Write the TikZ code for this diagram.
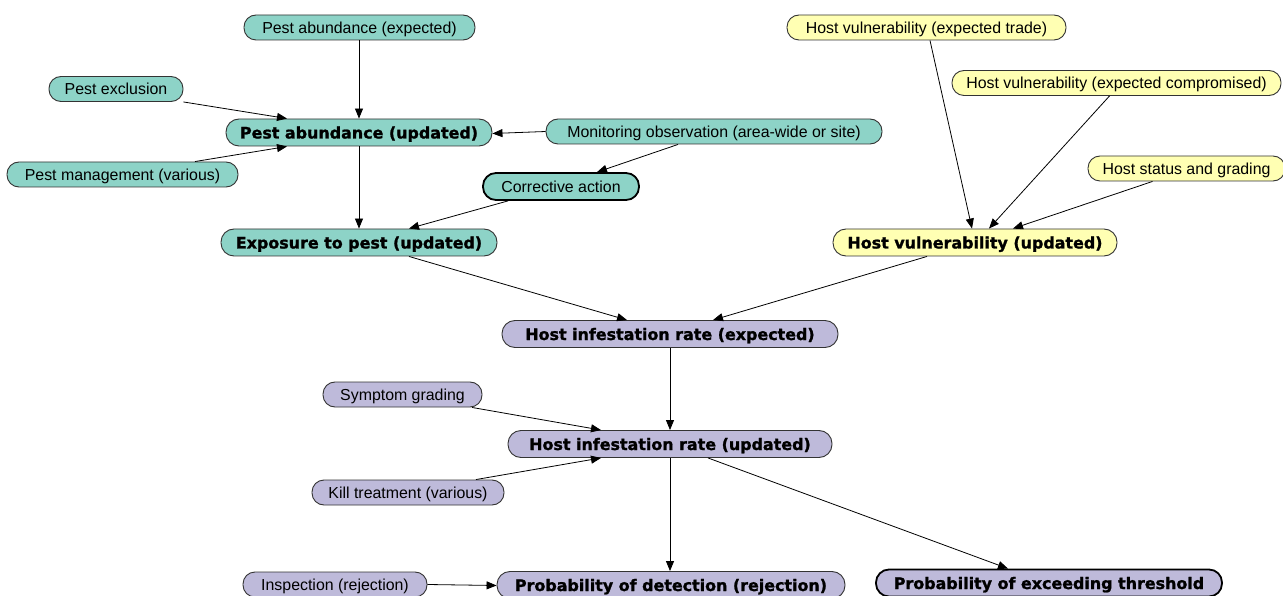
\documentclass[tikz,border=0pt]{standalone}
\usepackage{fontspec}
\setmainfont{Liberation Sans}
\newfontfamily\heavy{DejaVu Sans}[BoldFeatures={FakeBold=1.3}]
\usetikzlibrary{arrows.meta}
\definecolor{teal3}{HTML}{8DD3C7}
\definecolor{yell3}{HTML}{FFFFB3}
\definecolor{purp3}{HTML}{BEBADA}
\definecolor{bord}{HTML}{333333}
\begin{document}
\begin{tikzpicture}[x=1pt,y=-1pt,
  nd/.style={draw=bord,line width=0.9pt,rectangle,rounded corners=12pt,inner sep=0pt,
    minimum height=25pt,text height=12pt,text depth=0pt,font=\fontsize{15.9pt}{18pt}\selectfont},
  bnd/.style={nd,minimum height=27pt,rounded corners=13pt,font=\fontsize{15.9pt}{18pt}\heavy\bfseries},
  thick/.style={line width=1.8pt,draw=black},
  tl/.style={fill=teal3},
  yl/.style={fill=yell3},
  pp/.style={fill=purp3},
  arr/.style={-{Triangle[length=10pt,width=8pt]},line width=0.8pt,draw=black}]
\useasboundingbox (0,0) rectangle (1283,596);
\clip (0,0) rectangle (1283,596);
% teal
\node[nd,tl,minimum width=231pt] (n1) at (359.5,27.5) {Pest abundance (expected)};
\node[nd,tl,minimum width=134pt] (n2) at (116,89) {Pest exclusion};
\node[bnd,tl,minimum width=266pt] (n3) at (359,132.5) {Pest abundance (updated)};
\node[nd,tl,minimum width=231pt] (n4) at (122.5,174.5) {Pest management (various)};
\node[nd,tl,minimum width=336pt] (n5) at (714,131.5) {Monitoring observation (area-wide or site)};
\node[nd,tl,thick,minimum width=156pt,minimum height=27pt,rounded corners=13pt] (n6) at (561,186.5) {Corrective action};
\node[bnd,tl,minimum width=276pt] (n7) at (359,242.5) {Exposure to pest (updated)};
% yellow
\node[nd,yl,minimum width=279pt] (n8) at (926.5,27.5) {Host vulnerability (expected trade)};
\node[nd,yl,minimum width=329pt] (n9) at (1116.5,83) {Host vulnerability (expected compromised)};
\node[nd,yl,minimum width=197pt] (n10) at (1186.5,168.5) {Host status and grading};
\node[bnd,yl,minimum width=284pt] (n11) at (975,242.5) {Host vulnerability (updated)};
% purple
\node[bnd,pp,minimum width=336pt] (n12) at (670,334) {Host infestation rate (expected)};
\node[nd,pp,minimum width=159pt] (n13) at (402.5,394.5) {Symptom grading};
\node[bnd,pp,minimum width=324pt] (n14) at (670,444) {Host infestation rate (updated)};
\node[nd,pp,minimum width=192pt] (n15) at (408,492.5) {Kill treatment (various)};
\node[nd,pp,minimum width=184pt] (n16) at (335,584.5) {Inspection (rejection)};
\node[bnd,pp,minimum width=348pt] (n17) at (671,585) {Probability of detection (rejection)};
\node[bnd,pp,thick,minimum width=346pt] (n18) at (1049,583) {Probability of exceeding threshold};
% edges
\draw[arr] ([xshift=-0.5pt]n1.south) -- (n3.north);
\draw[arr] (n2.south east) -- ([xshift=-72pt]n3.north);
\draw[arr] ([xshift=72.5pt]n4.north) -- ([xshift=-72pt]n3.south);
\draw[arr] (n5.west) -- ([yshift=-1pt]n3.east);
\draw[arr] ([xshift=-36pt]n5.south) -- ([xshift=36pt]n6.north);
\draw[arr] (n3.south) -- (n7.north);
\draw[arr] ([xshift=-53pt]n6.south) -- ([xshift=50pt]n7.north);
\draw[arr] ([xshift=50pt]n7.south) -- ([xshift=-43pt]n12.north);
\draw[arr] ([xshift=3.5pt]n8.south) -- ([xshift=-3pt]n11.north);
\draw[arr] ([xshift=-7pt]n9.south) -- ([xshift=14pt]n11.north);
\draw[arr] ([xshift=-34pt]n10.south) -- ([xshift=38pt]n11.north);
\draw[arr] ([xshift=-48pt]n11.south) -- ([xshift=43pt]n12.north);
\draw[arr] (n12.south) -- (n14.north);
\draw[arr] ([xshift=69.5pt]n13.south) -- ([xshift=-69pt]n14.north);
\draw[arr] ([xshift=68pt]n15.north) -- ([xshift=-69pt]n14.south);
\draw[arr] (n14.south) -- ([xshift=-1pt]n17.north);
\draw[arr] ([xshift=38pt]n14.south) -- ([xshift=-41pt]n18.north);
\draw[arr] (n16.east) -- ([yshift=-0.5pt]n17.west);
\end{tikzpicture}
\end{document}
